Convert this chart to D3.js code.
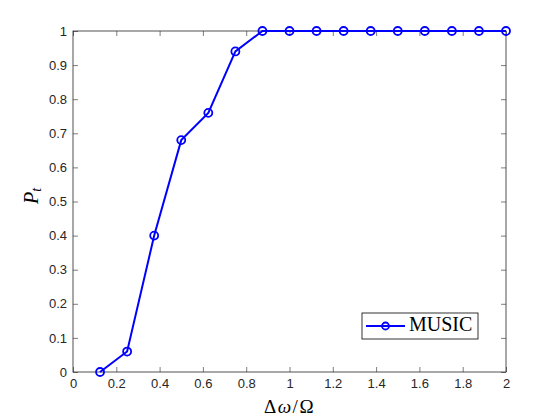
<!DOCTYPE html>
<html><head><meta charset="utf-8">
<script src="https://cdn.jsdelivr.net/npm/d3@7"></script>
<style>body{margin:0;background:#fff;} svg{display:block;}</style>
</head><body>
<svg id="c" width="560" height="420"></svg>
<script>
const xValues = [0.125,0.25,0.375,0.5,0.625,0.75,0.875,1,1.125,1.25,1.375,1.5,1.625,1.75,1.875,2];
const pValues = [0,0.06,0.4,0.68,0.76,0.94,1,1,1,1,1,1,1,1,1,1];
const xTicks = [0,0.2,0.4,0.6,0.8,1,1.2,1.4,1.6,1.8,2];
const yTicks = [0,0.1,0.2,0.3,0.4,0.5,0.6,0.7,0.8,0.9,1];
const seriesName = "MUSIC";

const svg = d3.select("#c");
const L=73, R=506, T=31, B=372;
const x = d3.scaleLinear().domain([0,2]).range([L,R]);
const y = d3.scaleLinear().domain([0,1]).range([B,T]);
const tc = "#262626";
const fmt = d => d3.format("~g")(d);

const g = svg.append("g");
const xa = g.append("g").attr("transform",`translate(0,${B})`)
  .call(d3.axisBottom(x).tickValues(xTicks).tickSizeInner(-5).tickSizeOuter(0).tickPadding(7).tickFormat(fmt));
const xt = g.append("g").attr("transform",`translate(0,${T})`)
  .call(d3.axisTop(x).tickValues(xTicks).tickSizeInner(-5).tickSizeOuter(0).tickFormat(""));
const ya = g.append("g").attr("transform",`translate(${L},0)`)
  .call(d3.axisLeft(y).tickValues(yTicks).tickSizeInner(-5).tickSizeOuter(0).tickPadding(6).tickFormat(fmt));
const yr = g.append("g").attr("transform",`translate(${R},0)`)
  .call(d3.axisRight(y).tickValues(yTicks).tickSizeInner(-5).tickSizeOuter(0).tickFormat(""));
[xa,xt,ya,yr].forEach(a=>{
  a.select(".domain").remove();
  a.selectAll("line").attr("stroke",tc).attr("stroke-width",0.6);
  a.selectAll("text").attr("fill",tc).style("font-family","'Liberation Sans', Arial, sans-serif").style("font-size","13px");
});
g.append("rect").attr("x",L).attr("y",T).attr("width",R-L).attr("height",B-T)
  .attr("fill","none").attr("stroke",tc).attr("stroke-width",0.8);

const data = xValues.map((v,i)=>[v,pValues[i]]);
g.append("path").datum(data).attr("fill","none").attr("stroke","#0000ff").attr("stroke-width",2)
  .attr("d",d3.line().x(d=>x(d[0])).y(d=>y(d[1])));
g.selectAll("circle.m").data(data).enter().append("circle").attr("class","m")
  .attr("cx",d=>x(d[0])).attr("cy",d=>y(d[1])).attr("r",4)
  .attr("fill","none").attr("stroke","#0000ff").attr("stroke-width",1.8);

// axis labels
const xl = svg.append("text").attr("x",(L+R)/2).attr("y",413).attr("text-anchor","middle")
  .style("font-family","'Liberation Serif','DejaVu Serif',serif").style("font-size","19px")
  .style("letter-spacing","1.5px").attr("fill","#000");
xl.append("tspan").text("Δ");
xl.append("tspan").attr("font-style","italic").text("ω");
xl.append("tspan").text("/Ω");

const yl = svg.append("text").attr("transform",`translate(38,196) rotate(-90)`).attr("text-anchor","middle")
  .style("font-family","'Liberation Serif','DejaVu Serif',serif").style("font-size","20px").attr("fill","#000");
yl.append("tspan").attr("font-style","italic").text("P");
yl.append("tspan").attr("font-style","italic").attr("font-size","14px").attr("dy",3).text("t");

// legend
const lg = svg.append("g");
lg.append("rect").attr("x",362).attr("y",313).attr("width",116).attr("height",26)
  .attr("fill","#fff").attr("stroke","#000").attr("stroke-width",0.8);
lg.append("line").attr("x1",366).attr("x2",405).attr("y1",326).attr("y2",326).attr("stroke","#0000ff").attr("stroke-width",2);
lg.append("circle").attr("cx",385.5).attr("cy",326).attr("r",3.5).attr("fill","none").attr("stroke","#0000ff").attr("stroke-width",1.8);
lg.append("text").attr("x",409).attr("y",331).text(seriesName)
  .style("font-family","'Liberation Serif','DejaVu Serif',serif").style("font-size","20px").attr("fill","#000");
</script>
</body></html>
